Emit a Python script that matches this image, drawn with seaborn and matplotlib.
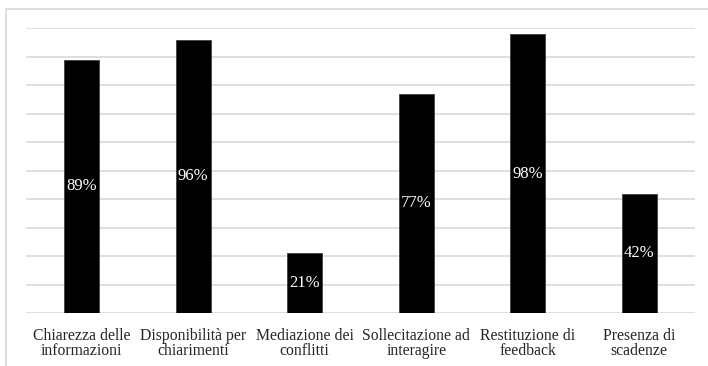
import matplotlib
matplotlib.use("Agg")
import matplotlib.pyplot as plt
import seaborn as sns
import pandas as pd
from matplotlib.patches import Rectangle

categories = [
    "Chiarezza delle\ninformazioni",
    "Disponibilità per\nchiarimenti",
    "Mediazione dei\nconflitti",
    "Sollecitazione ad\ninteragire",
    "Restituzione di\nfeedback",
    "Presenza di\nscadenze",
]
values = [0.89, 0.96, 0.21, 0.77, 0.98, 0.42]
labels = ["89%", "96%", "21%", "77%", "98%", "42%"]

sns.set_theme(style="white")
plt.rcParams["font.family"] = ["Liberation Serif", "DejaVu Serif"]

W, H = 708, 366
fig = plt.figure(figsize=(W / 100, H / 100), dpi=100)
ax = fig.add_axes([26 / W, (H - 313) / H, (695 - 26) / W, (313 - 28.5) / H])

df = pd.DataFrame({"cat": categories, "val": values})
sns.barplot(data=df, x="cat", y="val", color="black", width=0.31,
            saturation=1, edgecolor="#404040", linewidth=0.6, ax=ax)

ax.set_ylim(0, 1.0)
ax.set_xlim(-0.5, len(categories) - 0.5)
ax.set_yticks([i / 10 for i in range(11)])
ax.yaxis.grid(True, color="#d9d9d9", linewidth=1.2)
ax.set_axisbelow(True)
ax.tick_params(axis="y", left=False, labelleft=False)
ax.tick_params(axis="x", bottom=False, pad=4.5, labelsize=11.3)
for lbl in ax.get_xticklabels():
    lbl.set_linespacing(0.98)
for s in ax.spines.values():
    s.set_visible(False)
ax.set_xlabel("")
ax.set_ylabel("")

ax.bar_label(ax.containers[0], labels=labels, label_type="center",
             color="white", fontsize=12)

fig.patches.append(Rectangle((6 / W, -0.1), 1.2, (H - 9) / H + 0.1,
                             transform=fig.transFigure, fill=False,
                             edgecolor="#d9d9d9", linewidth=1.2, zorder=0))

fig.savefig("out.png", dpi=100, facecolor="white")
